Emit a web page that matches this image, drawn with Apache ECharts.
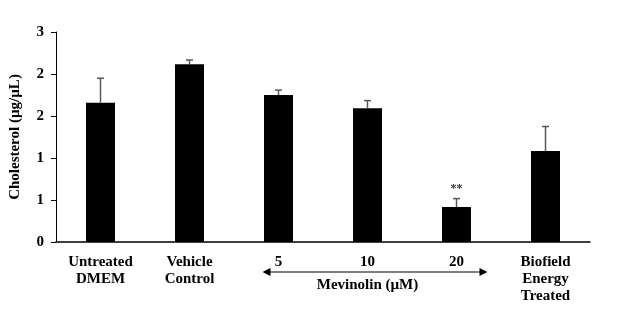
<!DOCTYPE html>
<html>
<head>
<meta charset="utf-8">
<script src="https://cdn.jsdelivr.net/npm/echarts@6/dist/echarts.min.js"></script>
<style>
html,body{margin:0;padding:0;background:#fff;}
#chart{width:626px;height:324px;}
</style>
</head>
<body>
<div id="chart"></div>
<script>
var categories = ['Untreated\nDMEM', 'Vehicle\nControl', '5', '10', '20', 'Biofield\nEnergy\nTreated'];
var values = [1.99, 2.54, 2.10, 1.91, 0.50, 1.30];
var errors = [0.35, 0.06, 0.07, 0.11, 0.12, 0.35];
var marks = ['', '', '', '', '**', ''];
var yTicks = { min: 0, max: 3, interval: 0.6 };
var yTitle = 'Cholesterol (\u00b5g/\u00b5L)';
var groupTitle = 'Mevinolin (\u00b5M)';
var groupRange = [2, 4];

var font = 'Liberation Serif, Times New Roman, serif';
var chart = echarts.init(document.getElementById('chart'));
var errData = values.map(function (v, i) { return [i, v, v + errors[i], marks[i]]; });

chart.setOption({
  animation: false,
  grid: { left: 56, right: 36, top: 32, bottom: 82, containLabel: false, outerBoundsMode: 'none' },
  xAxis: {
    type: 'category',
    data: categories,
    axisLine: { lineStyle: { color: '#000', width: 1.5 } },
    axisTick: { show: false },
    axisLabel: {
      interval: 0, margin: 12, color: '#000', fontFamily: font,
      fontWeight: 'bold', fontSize: 15, lineHeight: 17
    }
  },
  yAxis: {
    type: 'value',
    min: yTicks.min, max: yTicks.max, interval: yTicks.interval,
    name: yTitle, nameLocation: 'middle', nameGap: 33,
    nameTextStyle: { color: '#000', fontFamily: font, fontWeight: 'bold', fontSize: 15 },
    axisLine: { show: true, lineStyle: { color: '#000', width: 1 } },
    axisTick: { show: true, length: 5, lineStyle: { color: '#000' } },
    splitLine: { show: false },
    axisLabel: {
      margin: 12, color: '#000', fontFamily: font, fontWeight: 'bold', fontSize: 15,
      formatter: function (v) { return String(Math.round(v)); }
    }
  },
  series: [
    {
      type: 'bar', data: values, barWidth: 29,
      itemStyle: { color: '#000' }
    },
    {
      type: 'custom',
      data: errData,
      z: 5,
      renderItem: function (params, api) {
        var x = api.value(0);
        var base = api.coord([x, api.value(1)]);
        var top = api.coord([x, api.value(2)]);
        var style = { stroke: '#595959', lineWidth: 1.5 };
        var children = [
          { type: 'line', shape: { x1: base[0], y1: base[1], x2: top[0], y2: top[1] }, style: style },
          { type: 'line', shape: { x1: top[0] - 3.5, y1: top[1], x2: top[0] + 3.5, y2: top[1] }, style: style }
        ];
        var m = errData[params.dataIndex][3];
        if (m) {
          children.push({ type: 'text', style: { text: m, x: top[0], y: top[1] - 4, align: 'center', verticalAlign: 'bottom', fill: '#333', font: 'bold 12px ' + font } });
        }
        return { type: 'group', children: children };
      }
    }
  ]
});

var p0 = chart.convertToPixel({ xAxisIndex: 0 }, groupRange[0]);
var p1 = chart.convertToPixel({ xAxisIndex: 0 }, groupRange[1]);
var pc = (p0 + p1) / 2;
var ay = 272;
var x1 = p0 - 16, x2 = p1 + 31;
chart.setOption({
  graphic: [
    { type: 'line', shape: { x1: x1 + 4, y1: ay, x2: x2 - 4, y2: ay }, style: { stroke: '#000', lineWidth: 1.2 } },
    { type: 'polygon', shape: { points: [[x1, ay], [x1 + 8, ay - 4], [x1 + 8, ay + 4]] }, style: { fill: '#000' } },
    { type: 'polygon', shape: { points: [[x2, ay], [x2 - 8, ay - 4], [x2 - 8, ay + 4]] }, style: { fill: '#000' } },
    { type: 'text', style: { text: groupTitle, x: pc, y: 285, align: 'center', verticalAlign: 'middle', fill: '#000', font: 'bold 15px ' + font } }
  ]
});
</script>
</body>
</html>
